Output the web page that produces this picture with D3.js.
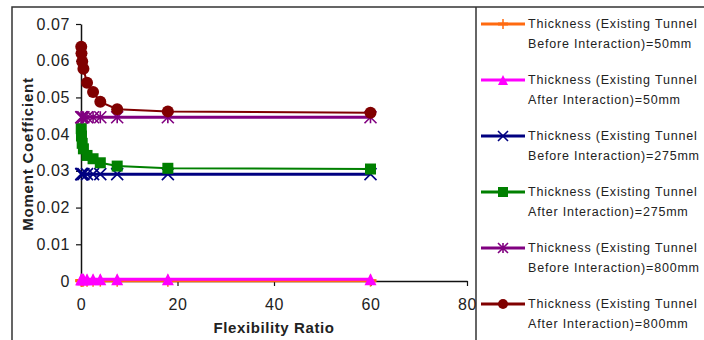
<!DOCTYPE html>
<html>
<head>
<meta charset="utf-8">
<script src="https://cdn.jsdelivr.net/npm/d3@7"></script>
<style>
  body { margin: 0; background: #fff; }
  svg { display: block; font-family: Arial, "Liberation Sans", sans-serif; }
</style>
</head>
<body>
<svg id="chart" width="704" height="340"></svg>
<script>
// flexibility ratio values (shared by all series)
const flexRatio = [0.05, 0.1, 0.25, 0.5, 1.25, 2.5, 4, 7.5, 18, 60];

const before50 = [0.0001, 0.0001, 0.0001, 0.0001, 0.0001, 0.0001, 0.0001, 0.0001, 0.0001, 0.0001];
const after50 = [0.0005, 0.0005, 0.0005, 0.0005, 0.0005, 0.0005, 0.0005, 0.0005, 0.0005, 0.0005];
const before275 = [0.0291, 0.0291, 0.0291, 0.0291, 0.0291, 0.0291, 0.0291, 0.0291, 0.0291, 0.0291];
const after275 = [0.0415, 0.0395, 0.0375, 0.036, 0.0342, 0.0333, 0.0322, 0.0313, 0.0307, 0.0305];
const before800 = [0.0446, 0.0446, 0.0446, 0.0446, 0.0446, 0.0446, 0.0446, 0.0446, 0.0446, 0.0446];
const after800 = [0.0638, 0.062, 0.0598, 0.0578, 0.054, 0.0515, 0.0488, 0.0468, 0.0462, 0.0458];

const seriesNames = [
  ['Thickness (Existing Tunnel', 'Before Interaction)=50mm'],
  ['Thickness (Existing Tunnel', 'After Interaction)=50mm'],
  ['Thickness (Existing Tunnel', 'Before Interaction)=275mm'],
  ['Thickness (Existing Tunnel', 'After Interaction)=275mm'],
  ['Thickness (Existing Tunnel', 'Before Interaction)=800mm'],
  ['Thickness (Existing Tunnel', 'After Interaction)=800mm']
];
const seriesValues = [before50, after50, before275, after275, before800, after800];
const seriesColors = ['#ff6a10', '#ff00ff', '#000080', '#008000', '#800080', '#800000'];
const seriesMarkers = ['plus', 'triangle', 'x', 'square', 'star', 'circle'];
const lineWidths = [3, 3, 3, 2, 3, 2];

const xTicks = [0, 20, 40, 60, 80];
const yTicks = [0, 0.01, 0.02, 0.03, 0.04, 0.05, 0.06, 0.07];

const svg = d3.select('#chart');

// outer frame and legend border
svg.append('rect')
  .attr('x', 12).attr('y', 7)
  .attr('width', 720).attr('height', 360)
  .attr('fill', 'none').attr('stroke', '#333').attr('stroke-width', 1.5);
svg.append('line')
  .attr('x1', 476).attr('x2', 476).attr('y1', 7).attr('y2', 340)
  .attr('stroke', '#333').attr('stroke-width', 1.5);

const x = d3.scaleLinear().domain([0, 80]).range([81, 467]);
const y = d3.scaleLinear().domain([0, 0.07]).range([281, 24]);

// axes
const xAxis = svg.append('g')
  .attr('transform', `translate(0,${y(0)})`)
  .call(d3.axisBottom(x).tickValues(xTicks).tickSize(5).tickPadding(13).tickSizeOuter(0));
const yAxis = svg.append('g')
  .attr('transform', `translate(${x(0)},0)`)
  .call(d3.axisLeft(y).tickValues(yTicks).tickSize(5).tickPadding(6).tickSizeOuter(0)
    .tickFormat(d => d === 0 ? '0' : d.toFixed(2)));
[xAxis, yAxis].forEach(a => {
  a.select('.domain').attr('stroke', '#111').attr('stroke-width', 1.5);
  a.selectAll('.tick line').attr('stroke', '#111').attr('stroke-width', 1.2);
  a.selectAll('.tick text')
    .style('font-size', '16px')
    .style('letter-spacing', '0.6px')
    .style('font-family', 'Arial, "Liberation Sans", sans-serif')
    .attr('fill', '#222');
});

svg.append('text')
  .attr('x', 274).attr('y', 333)
  .attr('text-anchor', 'middle')
  .style('font-size', '15px').style('font-weight', 'bold')
  .style('letter-spacing', '0.6px')
  .attr('fill', '#222')
  .text('Flexibility Ratio');
svg.append('text')
  .attr('transform', 'translate(33,154) rotate(-90)')
  .attr('text-anchor', 'middle')
  .style('font-size', '15px').style('font-weight', 'bold')
  .style('letter-spacing', '0.8px')
  .attr('fill', '#222')
  .text('Moment Coefficient');

function drawMarker(g, type, color, s) {
  const h = s / 2;
  if (type === 'plus') {
    g.append('line').attr('x1', -h).attr('x2', h).attr('y1', 0).attr('y2', 0)
      .attr('stroke', color).attr('stroke-width', 3);
    g.append('line').attr('x1', 0).attr('x2', 0).attr('y1', -h).attr('y2', h)
      .attr('stroke', color).attr('stroke-width', 1.5);
  } else if (type === 'triangle') {
    g.append('path').attr('d', `M0,${-h}L${h},${h}L${-h},${h}Z`).attr('fill', color);
  } else if (type === 'x') {
    g.append('path').attr('d', `M${-h},${-h}L${h},${h}M${-h},${h}L${h},${-h}`)
      .attr('stroke', color).attr('stroke-width', 1.6);
  } else if (type === 'square') {
    g.append('rect').attr('x', -h).attr('y', -h).attr('width', s).attr('height', s).attr('fill', color);
  } else if (type === 'star') {
    g.append('path')
      .attr('d', `M${-h},${-h}L${h},${h}M${-h},${h}L${h},${-h}M0,${-h}L0,${h}`)
      .attr('stroke', color).attr('stroke-width', 1.6);
  } else if (type === 'circle') {
    g.append('circle').attr('r', h).attr('fill', color);
  }
}

const markerSizes = [12, 12, 12, 11, 12, 12];
const line = d3.line().x(d => x(d[0])).y(d => y(d[1]));

seriesValues.forEach((vals, i) => {
  const pts = flexRatio.map((fr, j) => [fr, vals[j]]);
  const g = svg.append('g');
  g.append('path')
    .datum(pts)
    .attr('d', line)
    .attr('fill', 'none')
    .attr('stroke', seriesColors[i])
    .attr('stroke-width', lineWidths[i]);
  g.selectAll('g.m')
    .data(pts)
    .join('g')
    .attr('class', 'm')
    .attr('transform', d => `translate(${x(d[0])},${y(d[1])})`)
    .each(function () { drawMarker(d3.select(this), seriesMarkers[i], seriesColors[i], markerSizes[i]); });
});

// legend
const legend = svg.append('g');
seriesNames.forEach((name, i) => {
  const ly = 24 + i * 56;
  const lg = legend.append('g').attr('transform', `translate(0,${ly})`);
  lg.append('line').attr('x1', 481).attr('x2', 525).attr('y1', 0).attr('y2', 0)
    .attr('stroke', seriesColors[i]).attr('stroke-width', 3);
  const mg = lg.append('g').attr('transform', 'translate(503,0)');
  drawMarker(mg, seriesMarkers[i], seriesColors[i], 10);
  lg.append('text')
    .attr('x', 528).attr('y', 4)
    .style('font-size', '12.5px')
    .style('letter-spacing', '0.8px')
    .attr('fill', '#222')
    .selectAll('tspan')
    .data(name)
    .join('tspan')
    .attr('x', 528)
    .attr('dy', (d, k) => k === 0 ? 0 : 19.5)
    .text(d => d);
});
</script>
</body>
</html>
